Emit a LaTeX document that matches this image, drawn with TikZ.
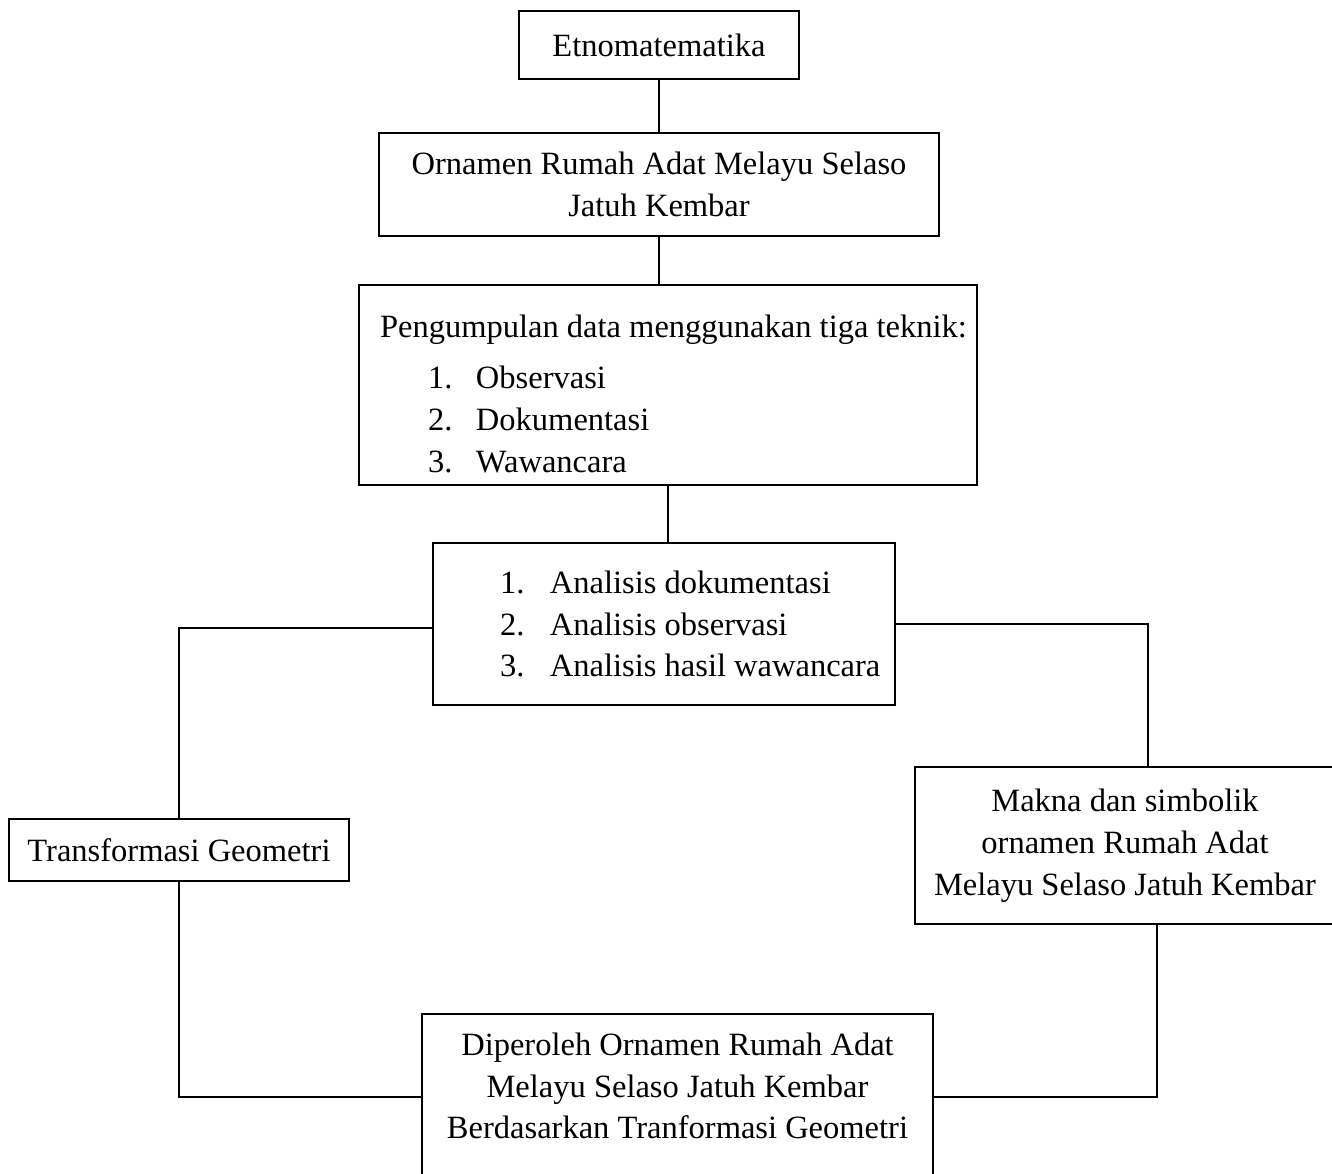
\documentclass[tikz,border=0pt]{standalone}
\usepackage{fontspec}
\setmainfont{Liberation Serif}
\usepackage{tikz}
\usetikzlibrary{positioning,calc}
\newcommand{\hurufbagan}{\fontsize{18.5}{23.8}\selectfont}
\tikzstyle{blok} = [draw, line width=1.1pt, inner sep=0pt, font=\hurufbagan, align=center]
\tikzstyle{garis} = [line width=1.1pt]

\begin{document}
\begin{tikzpicture}
\useasboundingbox (0,0) rectangle (26.64,-23.46);
% Kotak-kotak bagan
\node[blok, minimum width=5.6cm, minimum height=1.36cm] (etno) at (13.18,-0.90) {Etnomatematika};
\node[blok, minimum width=11.2cm, minimum height=2.06cm] (ornamen) at (13.18,-3.69) {Ornamen Rumah Adat Melayu Selaso\\Jatuh Kembar};
\node[blok, text width=12.36cm, minimum height=4.0cm, align=flush left] (kumpul) at (13.36,-7.70) {%
\hspace*{0.42cm}\rule{0pt}{0.8cm}\mbox{Pengumpulan data menggunakan tiga teknik:}\\[0.2cm]
\hspace*{1.38cm}\makebox[0.96cm][l]{1.}Observasi\\
\hspace*{1.38cm}\makebox[0.96cm][l]{2.}Dokumentasi\\
\hspace*{1.38cm}\makebox[0.96cm][l]{3.}Wawancara};
\node[blok, text width=9.24cm, minimum height=3.24cm, align=flush left] (analisis) at (13.28,-12.48) {%
\hspace*{1.34cm}\makebox[1.0cm][l]{1.}Analisis dokumentasi\\
\hspace*{1.34cm}\makebox[1.0cm][l]{2.}Analisis observasi\\
\hspace*{1.34cm}\makebox[1.0cm][l]{3.}Analisis hasil wawancara};
\node[blok, minimum width=6.8cm, minimum height=1.24cm] (transf) at (3.58,-17.0) {Transformasi Geometri};
\node[blok, minimum width=8.4cm, minimum height=3.14cm] (makna) at (22.5,-16.91) {Makna dan simbolik\\ornamen Rumah Adat\\Melayu Selaso Jatuh Kembar};
\node[blok, minimum width=10.22cm, minimum height=3.32cm] (hasil) at (13.55,-21.94) {Diperoleh Ornamen Rumah Adat\\Melayu Selaso Jatuh Kembar\\Berdasarkan Tranformasi Geometri\rule[-0.45cm]{0pt}{0.45cm}};

% Garis penghubung
\draw[garis] (etno) -- (ornamen);
\draw[garis] (ornamen.south) -- (ornamen.south |- kumpul.north);
\draw[garis] (kumpul.south) -- (kumpul.south |- analisis.north);
\draw[garis] ([yshift=-0.08cm]analisis.west) -| (transf.north);
\draw[garis] (analisis.east) -| ([xshift=0.46cm]makna.north);
\draw[garis] (transf.south) |- (hasil.west);
\draw[garis] ([xshift=0.64cm]makna.south) |- (hasil.east);
\end{tikzpicture}
\end{document}
